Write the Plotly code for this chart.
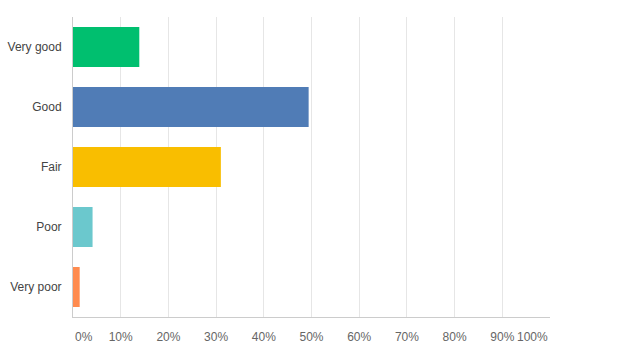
import plotly.graph_objects as go

categories = ["Very good", "Good", "Fair", "Poor", "Very poor"]
values = [13.9, 49.4, 31.0, 4.1, 1.4]
colors = ["#00BF6F", "#507CB6", "#F9BE00", "#6BC8CD", "#FF8B4F"]
tick_vals = [0, 10, 20, 30, 40, 50, 60, 70, 80, 90, 100]
tick_text = ["0%", "10%", "20%", "30%", "40%", "50%", "60%", "70%", "80%", "90%", "100%"]

fig = go.Figure(go.Bar(
    x=values, y=categories, orientation="h",
    marker=dict(color=colors, line=dict(width=0)),
    hoverinfo="skip",
))

fig.update_layout(
    width=636, height=360,
    margin=dict(l=73, r=86, t=17, b=43),
    paper_bgcolor="white", plot_bgcolor="white",
    bargap=1/3,
    showlegend=False,
    font=dict(family="Liberation Sans, Arial, sans-serif", size=12, color="#555"),
)

fig.update_xaxes(
    range=[0, 100], automargin=False,
    tickvals=tick_vals[1:-1], ticktext=tick_text[1:-1],
    showgrid=True, gridcolor="#e6e6e6", gridwidth=1,
    showline=True, linecolor="#cccccc", linewidth=1,
    zeroline=False, ticks="", ticklabelstandoff=9,
    tickfont=dict(size=12, color="#666"),
    fixedrange=True,
)
fig.update_yaxes(
    categoryorder="array", categoryarray=categories[::-1], automargin=False,
    showgrid=False, showline=True, linecolor="#cccccc", linewidth=1,
    ticks="", ticklabelstandoff=8,
    tickfont=dict(size=12, color="#444"),
    fixedrange=True,
)

# End labels aligned to the axis edges
fig.add_annotation(x=tick_vals[0], y=0, xref="x", yref="paper", text=tick_text[0],
                   xanchor="left", yanchor="top", yshift=-11, showarrow=False,
                   font=dict(size=12, color="#666"))
fig.add_annotation(x=tick_vals[-1], y=0, xref="x", yref="paper", text=tick_text[-1],
                   xanchor="right", yanchor="top", yshift=-11, showarrow=False,
                   font=dict(size=12, color="#666"))

fig.write_html("out.html", config={"displayModeBar": False},
               post_script="document.body.style.margin='0';")
